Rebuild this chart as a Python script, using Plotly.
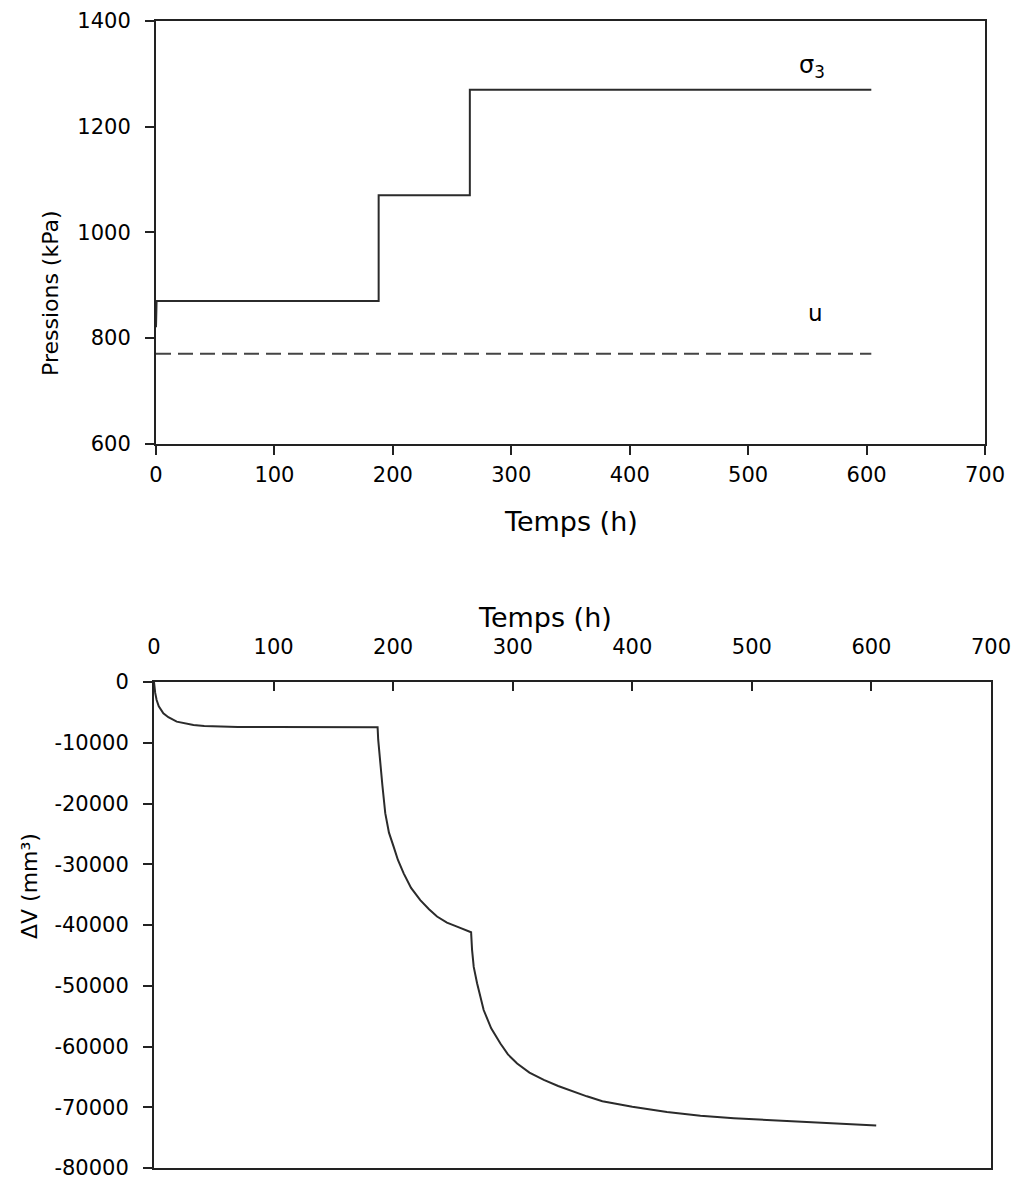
import plotly.graph_objects as go

# ---- data ----
sigma3_t = [0, 0.5, 188, 188, 265, 265, 604]
sigma3_v = [820, 870, 870, 1070, 1070, 1270, 1270]

u_t = [0, 604]
u_v = [770, 770]

dv_t = [0, 0.5, 1, 2.2, 4, 7.8, 12, 19, 26, 33, 42, 52.5, 70, 100, 130, 160, 187,
        187.5, 189.2, 191, 193.4, 196.5, 200.4, 204, 208.8, 215, 222.7, 230, 236.7,
        245, 255, 264.6, 265.2, 266, 267.4, 270.2, 275.7, 282, 289.7, 296, 303.7,
        314, 326, 338, 350, 362, 375, 400, 429, 457, 485, 513, 541, 572, 604]
dv_v = [0, -1000, -1800, -2960, -4000, -5150, -5800, -6530, -6850, -7080, -7250,
        -7350, -7400, -7420, -7430, -7450, -7460,
        -9500, -13400, -17000, -21600, -24800, -27100, -29300, -31500, -33900,
        -35900, -37400, -38600, -39600, -40400, -41100, -41200, -44100, -46900,
        -49600, -54000, -57000, -59500, -61300, -62800, -64300, -65500, -66500,
        -67400, -68200, -69000, -69900, -70800, -71400, -71800, -72100, -72400,
        -72700, -73000]

x_ticks = [0, 100, 200, 300, 400, 500, 600, 700]
p_ticks = [600, 800, 1000, 1200, 1400]
dv_ticks = [0, -10000, -20000, -30000, -40000, -50000, -60000, -70000, -80000]

# the page body margin is removed by a small post script -> figure fills the window
W, H = 1016, 1183
FONT = "DejaVu Sans"
LINE = "#2b2b2b"


def px_x(v):
    return v / W


def px_y(v):
    return 1 - v / H


fig = go.Figure()

fig.add_trace(go.Scatter(x=sigma3_t, y=sigma3_v, mode="lines",
                         line=dict(color=LINE, width=2), xaxis="x", yaxis="y",
                         showlegend=False))
fig.add_trace(go.Scatter(x=u_t, y=u_v, mode="lines",
                         line=dict(color="#444444", width=2, dash="15px,7px"),
                         xaxis="x", yaxis="y", showlegend=False))
fig.add_trace(go.Scatter(x=dv_t, y=dv_v, mode="lines",
                         line=dict(color=LINE, width=2),
                         xaxis="x2", yaxis="y2", showlegend=False))

tickfont = dict(family=FONT, size=21, color="black")

common_axis = dict(showgrid=False, zeroline=False, showline=True,
                   linecolor="#222222", linewidth=2, mirror=True,
                   ticklen=9, tickwidth=2, tickcolor="#222222",
                   tickfont=tickfont, automargin=False,
                   ticklabeloverflow="allow")

fig.update_layout(
    width=W, height=H,
    margin=dict(l=0, r=0, t=0, b=0, autoexpand=False),
    paper_bgcolor="white", plot_bgcolor="white",
    font=dict(family=FONT, color="black"),
    xaxis=dict(domain=[px_x(156), px_x(985)], range=[0, 700], tickvals=x_ticks,
               ticks="outside", anchor="y", ticklabelstandoff=2,
               **common_axis),
    yaxis=dict(domain=[px_y(443.5), px_y(21)], range=[600, 1400], tickvals=p_ticks,
               ticks="outside", anchor="x", ticklabelstandoff=10,
               **common_axis),
    xaxis2=dict(domain=[px_x(154), px_x(991)], range=[0, 700], tickvals=x_ticks,
                ticks="inside", side="top", anchor="y2", ticklabelstandoff=18,
                **common_axis),
    yaxis2=dict(domain=[px_y(1168), px_y(682)], range=[-80000, 0], tickvals=dv_ticks,
                ticktext=[str(v) for v in dv_ticks],
                ticks="outside", anchor="x2", ticklabelstandoff=10,
                **common_axis),
    annotations=[
        dict(x=554, y=1313, xref="x", yref="y", text="σ<sub>3</sub>",
             showarrow=False, font=dict(family=FONT, size=24, color="black")),
        dict(x=557, y=848, xref="x", yref="y", text="u",
             showarrow=False, font=dict(family=FONT, size=23, color="black")),
        dict(x=px_x(571), y=px_y(521), xref="paper", yref="paper",
             xanchor="center", yanchor="middle",
             text="Temps (h)", showarrow=False,
             font=dict(family=FONT, size=27, color="black")),
        dict(x=px_x(545), y=px_y(617), xref="paper", yref="paper",
             xanchor="center", yanchor="middle",
             text="Temps (h)", showarrow=False,
             font=dict(family=FONT, size=27, color="black")),
        dict(x=px_x(50), y=px_y(293), xref="paper", yref="paper",
             xanchor="center", yanchor="middle",
             text="Pressions (kPa)", showarrow=False, textangle=-90,
             font=dict(family=FONT, size=22, color="black")),
        dict(x=px_x(29), y=px_y(886), xref="paper", yref="paper",
             xanchor="center", yanchor="middle",
             text="ΔV (mm³)", showarrow=False, textangle=-90,
             font=dict(family=FONT, size=22, color="black")),
    ],
)

fig.write_html(
    "out.html",
    config={"displayModeBar": False},
    post_script="document.body.style.margin='0px';"
                "document.body.style.overflow='hidden';",
)
